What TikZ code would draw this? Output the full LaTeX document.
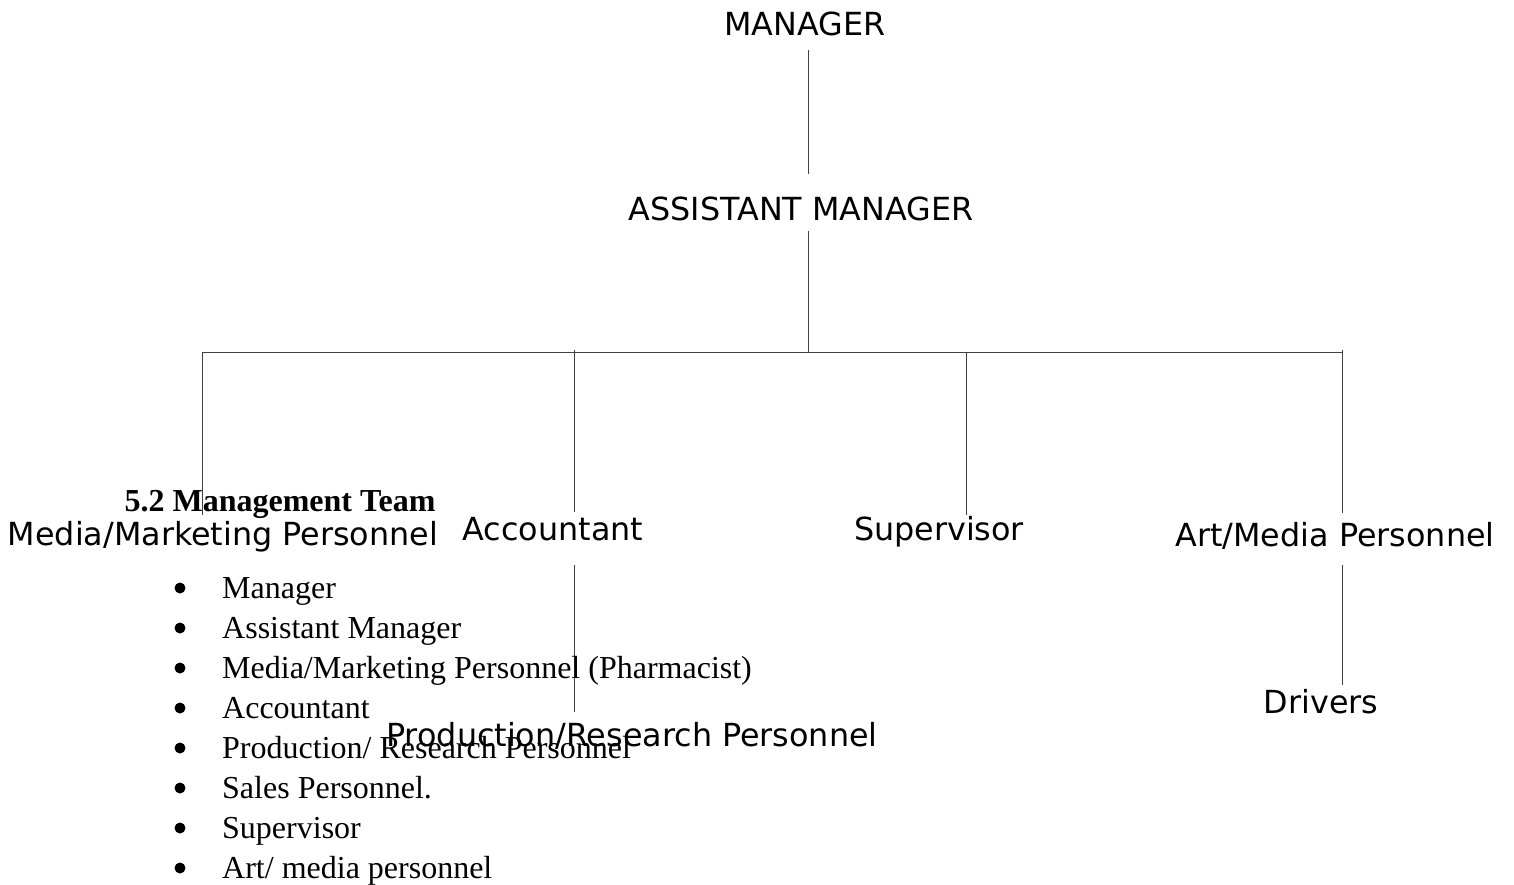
\documentclass[tikz,border=0pt]{standalone}
\usepackage{fontspec}
\setmainfont{Liberation Serif}
\newfontfamily\djv{DejaVu Sans}
\begin{document}
\begin{tikzpicture}[x=1pt,y=-1pt,
  lbl/.style={font=\djv\fontsize{31.8}{38}\selectfont, anchor=base, inner sep=0pt},
  itm/.style={font=\fontsize{32}{38}\selectfont, anchor=base west, inner sep=0pt},
  hd/.style={font=\bfseries\fontsize{32}{38}\selectfont, anchor=base, inner sep=0pt},
  conn/.style={line width=1pt, draw=black!75},
  dot/.style={circle, fill=black, inner sep=0pt, minimum size=11pt}]
\useasboundingbox (0,0) rectangle (1514,884);
% nodes
\node[lbl] (mgr) at (805,35) {MANAGER};
\node[lbl] (asst) at (801,220) {ASSISTANT MANAGER};
\node[lbl] (media) at (223,545) {Media/Marketing Personnel};
\node[lbl] (acc) at (553,540) {Accountant};
\node[lbl] (sup) at (939,540) {Supervisor};
\node[lbl] (art) at (1335,546) {Art/Media Personnel};
\node[lbl] (prod) at (632,746) {Production/Research Personnel};
\node[lbl] (drv) at (1321,713) {Drivers};
% connector ends
\coordinate (mgrS) at (808,50);
\coordinate (asstN) at (808,174);
\coordinate (asstS) at (808,231);
\coordinate (bus) at (808,352);
\coordinate (busL) at (202,352);
\coordinate (busR) at (1342,352);
\coordinate (mediaN) at (202,515);
\coordinate (accT) at (574,350);
\coordinate (accN) at (574,512);
\coordinate (supT) at (966,352);
\coordinate (supN) at (966,515);
\coordinate (artT) at (1342,350);
\coordinate (artN) at (1342,513);
\coordinate (accS) at (574,565);
\coordinate (prodN) at (574,712);
\coordinate (artS) at (1342,565);
\coordinate (drvN) at (1342,685);
% connectors
\draw[conn] (mgrS) -- (asstN);
\draw[conn] (asstS) -- (bus);
\draw[conn] (busL) -- (busR);
\draw[conn] (busL) -- (mediaN);
\draw[conn] (accT) -- (accN);
\draw[conn] (supT) -- (supN);
\draw[conn] (artT) -- (artN);
\draw[conn] (accS) -- (prodN);
\draw[conn] (artS) -- (drvN);
% heading and list
\node[hd] (head) at (280,511) {5.2 Management Team};
\foreach \t [count=\i] in {Manager, Assistant Manager, Media/Marketing Personnel (Pharmacist), Accountant, Production/ Research Personnel, Sales Personnel., Supervisor, Art/ media personnel} {
  \pgfmathsetmacro{\yy}{558+40*\i}
  \node[dot] (b\i) at (180,\yy-10) {};
  \node[itm] (l\i) at (222,\yy) {\t};
}
\end{tikzpicture}
\end{document}
